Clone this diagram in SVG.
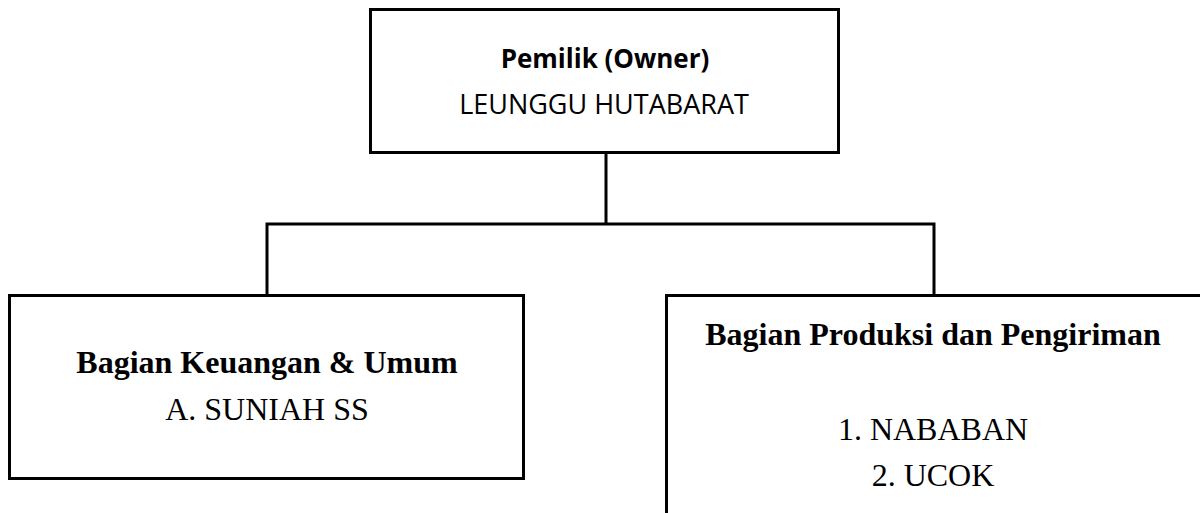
<svg xmlns="http://www.w3.org/2000/svg" width="1200" height="513" viewBox="0 0 1200 513">
<style>
.box{fill:#fff;stroke:#000;stroke-width:3}
.conn{fill:none;stroke:#000;stroke-width:3}
.sans{font-family:"Open Sans","Liberation Sans",sans-serif;fill:#000;text-anchor:middle}
.serif{font-family:"Liberation Serif","Times New Roman",serif;fill:#000;text-anchor:middle;font-size:32px}
.b{font-weight:bold}
</style>
<rect width="1200" height="513" fill="#fff"/>
<g id="connectors">
<path class="conn" d="M606 153 V224 M265.5 224 H935.5 M267 224 V294 M934 224 V294"/>
</g>
<g id="owner">
<rect class="box" x="370.5" y="9.5" width="468" height="143"/>
<text class="sans b" x="605" y="68" font-size="26">Pemilik (Owner)</text>
<text class="sans" x="604" y="114" font-size="27">LEUNGGU HUTABARAT</text>
</g>
<g id="keuangan">
<rect class="box" x="9.5" y="295.5" width="514" height="183"/>
<text class="serif b" x="267" y="373">Bagian Keuangan &amp; Umum</text>
<text class="serif" x="267" y="420">A. SUNIAH SS</text>
</g>
<g id="produksi">
<rect class="box" x="666.5" y="295.5" width="540" height="240"/>
<text class="serif b" x="933" y="345">Bagian Produksi dan Pengiriman</text>
<text class="serif" x="933" y="440">1. NABABAN</text>
<text class="serif" x="933" y="486">2. UCOK</text>
</g>
</svg>
